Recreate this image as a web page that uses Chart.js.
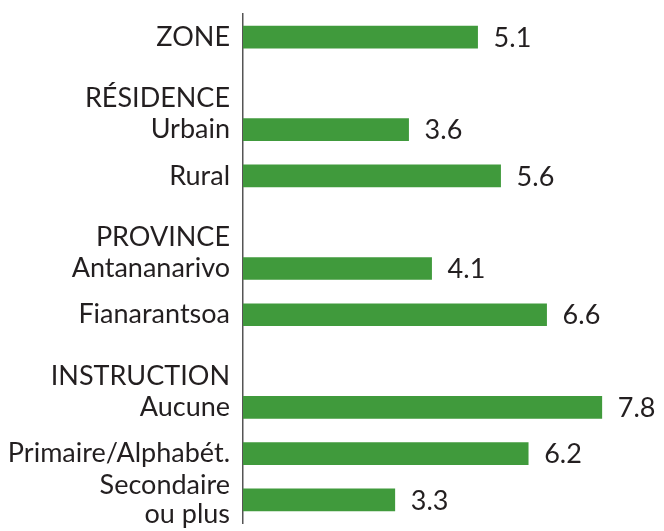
<!DOCTYPE html>
<html>
<head>
<meta charset="utf-8">
<script src="https://cdn.jsdelivr.net/npm/chart.js@4"></script>
<style>
  html, body { margin: 0; padding: 0; background: #fff; }
  #wrap { width: 664px; height: 531px; }
</style>
</head>
<body>
<div id="wrap"><canvas id="chart"></canvas></div>
<script>
// Row labels (group headers sit on empty rows)
const rowLabels = [
  'ZONE',
  ['', 'RÉSIDENCE'],
  'Urbain',
  'Rural',
  ['', 'PROVINCE'],
  'Antananarivo',
  'Fianarantsoa',
  ['', 'INSTRUCTION'],
  'Aucune',
  'Primaire/Alphabét.',
  ['Secondaire', 'ou plus']
];

// Values (null = header row, no bar)
const rowValues = [5.1, null, 3.6, 5.6, null, 4.1, 6.6, null, 7.8, 6.2, 3.3];

const barColor = '#409a3c';
const textColor = '#231f20';
const fontFamily = 'Lato, "Open Sans", sans-serif';

// Draw value labels at the end of each bar
const valueLabels = {
  id: 'valueLabels',
  afterDatasetsDraw(chart) {
    const ctx = chart.ctx;
    const meta = chart.getDatasetMeta(0);
    ctx.save();
    ctx.font = '27px ' + fontFamily;
    ctx.fillStyle = textColor;
    ctx.textAlign = 'left';
    ctx.textBaseline = 'middle';
    meta.data.forEach((bar, i) => {
      const v = rowValues[i];
      if (v === null) return;
      ctx.fillText(v.toFixed(1), bar.x + 16, bar.y + 1);
    });
    ctx.restore();
  }
};

new Chart(document.getElementById('chart'), {
  type: 'bar',
  data: {
    labels: rowLabels,
    datasets: [{
      data: rowValues,
      backgroundColor: barColor,
      borderWidth: 0,
      barThickness: 22
    }]
  },
  options: {
    indexAxis: 'y',
    responsive: true,
    maintainAspectRatio: false,
    animation: false,
    layout: { padding: { top: 14, bottom: 8, right: 7, left: 0 } },
    plugins: {
      legend: { display: false },
      tooltip: { enabled: false }
    },
    scales: {
      x: {
        display: false,
        min: 0,
        max: 9
      },
      y: {
        grid: { display: false },
        border: { display: true, color: '#555', width: 1.5 },
        afterFit(scale) {
          scale.width = 243;
          scale.paddingTop = 0;
          scale.paddingBottom = 0;
        },
        ticks: {
          autoSkip: false,
          color: textColor,
          padding: 5,
          font: { family: fontFamily, size: 27, lineHeight: 1.1 }
        }
      }
    }
  },
  plugins: [valueLabels]
});
</script>
</body>
</html>
